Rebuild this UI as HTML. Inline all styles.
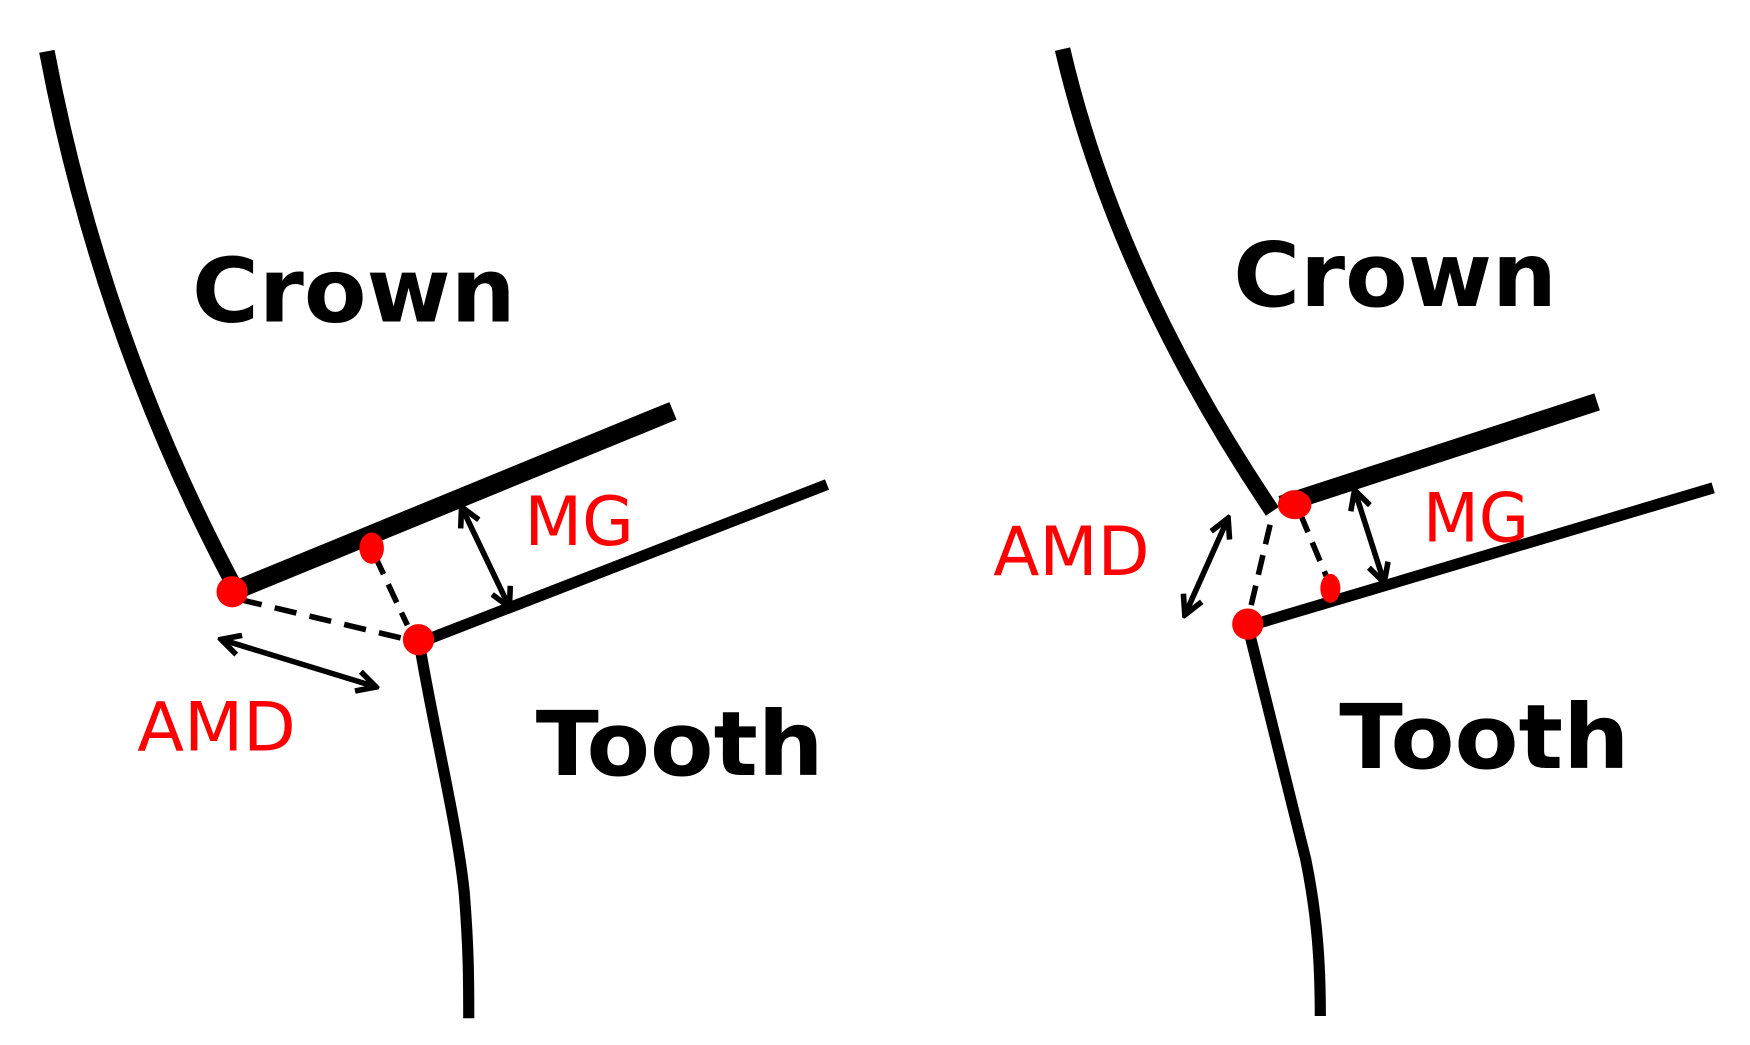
<!DOCTYPE html>
<html><head><style>html,body{margin:0;padding:0;background:#fff}svg{display:block}</style></head>
<body>
<svg width="1750" height="1045" viewBox="0 0 1568 936" preserveAspectRatio="none" xmlns="http://www.w3.org/2000/svg">
<defs>
<marker id="ah" viewBox="0 0 22 22" refX="18" refY="11" markerWidth="22" markerHeight="22" orient="auto-start-reverse" markerUnits="userSpaceOnUse">
<path d="M2,2 L19,11 L2,20" fill="none" stroke="#000" stroke-width="5" stroke-linejoin="miter"/>
</marker>
</defs>
<rect width="1568" height="936" fill="#fff"/>
<g fill="none" stroke="#000" stroke-linecap="butt">
<!-- left panel -->
<path d="M42,46 Q90,300 210,525" stroke-width="14"/>
<path d="M208,530 L603,368" stroke-width="17"/>
<path d="M372,577 L741,434" stroke-width="10"/>
<path d="M376,578 C390,660 410,740 416,800 C420,850 420,880 420,912" stroke-width="10"/>
<path d="M215,537 L370,574" stroke-width="5" stroke-dasharray="20,12"/>
<path d="M336,498 L365,560" stroke-width="5" stroke-dasharray="18,10"/>
<path d="M414,455 L456,543" stroke-width="5" marker-start="url(#ah)" marker-end="url(#ah)"/>
<path d="M199,573 L336,615" stroke-width="5" marker-start="url(#ah)" marker-end="url(#ah)"/>
<!-- right panel -->
<path d="M952,44 Q1000,250 1140,458" stroke-width="14"/>
<path d="M1148,452 L1431,360" stroke-width="16"/>
<path d="M1118,561 L1535,437" stroke-width="10"/>
<path d="M1118,561 L1170,770 C1180,820 1183,860 1183,910" stroke-width="10"/>
<path d="M1165,460 L1190,520" stroke-width="5" stroke-dasharray="18,10"/>
<path d="M1138,470 L1118,555" stroke-width="5" stroke-dasharray="18,10"/>
<path d="M1214,440 L1240,521" stroke-width="5" marker-start="url(#ah)" marker-end="url(#ah)"/>
<path d="M1100,465 L1062,550" stroke-width="5" marker-start="url(#ah)" marker-end="url(#ah)"/>
</g>
<g fill="#f00">
<circle cx="208" cy="530" r="14"/>
<ellipse cx="333" cy="491" rx="11" ry="14"/>
<circle cx="375" cy="573" r="14"/>
<ellipse cx="1160" cy="452" rx="15" ry="13"/>
<ellipse cx="1192" cy="527" rx="9" ry="13"/>
<circle cx="1118" cy="559" r="14"/>
</g>
<g font-family="'DejaVu Sans','Liberation Sans',sans-serif">
<text x="172" y="288" font-size="80" font-weight="bold" fill="#000" textLength="290" lengthAdjust="spacingAndGlyphs">Crown</text>
<text x="480" y="694" font-size="80" font-weight="bold" fill="#000" textLength="258" lengthAdjust="spacingAndGlyphs">Tooth</text>
<text x="1105" y="274" font-size="80" font-weight="bold" fill="#000" textLength="290" lengthAdjust="spacingAndGlyphs">Crown</text>
<text x="1200" y="688" font-size="80" font-weight="bold" fill="#000" textLength="260" lengthAdjust="spacingAndGlyphs">Tooth</text>
<text x="470" y="488" font-size="61" fill="#f00" textLength="98" lengthAdjust="spacingAndGlyphs">MG</text>
<text x="123" y="672" font-size="61" fill="#f00" textLength="142" lengthAdjust="spacingAndGlyphs">AMD</text>
<text x="1275" y="485" font-size="61" fill="#f00" textLength="95" lengthAdjust="spacingAndGlyphs">MG</text>
<text x="890" y="515" font-size="61" fill="#f00" textLength="140" lengthAdjust="spacingAndGlyphs">AMD</text>
</g>
</svg>
</body></html>
